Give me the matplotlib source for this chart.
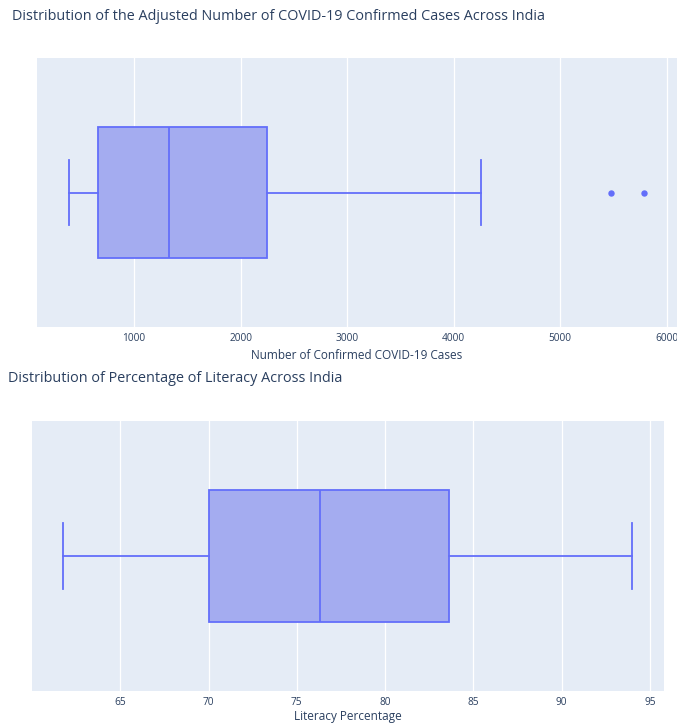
import numpy as np
import matplotlib.pyplot as plt

plt.rcParams['font.family'] = ['Open Sans', 'DejaVu Sans']

# Статистики ящиков
covid_stats = [391, 663, 1328, 2247, 4252]  # whislo, q1, med, q3, whishi
covid_outliers = [5480, 5789]
covid_ticks = [1000, 2000, 3000, 4000, 5000, 6000]

literacy_stats = [61.76, 70.0, 76.3, 83.6, 94.0]
literacy_outliers = []
literacy_ticks = [65, 70, 75, 80, 85, 90, 95]

TEXT = '#2a3f5f'
BG = '#e5ecf6'
LINE = '#636efa'
FILL = '#a4acf0'


def draw_box(ax, stats, outliers, ticks, xlim, xlabel, labelpad):
    lo, q1, med, q3, hi = stats
    bx = [{'whislo': lo, 'q1': q1, 'med': med, 'q3': q3, 'whishi': hi,
           'fliers': outliers}]
    ax.bxp(bx, positions=[0], widths=0.487, capwidths=0.242, vert=False,
           patch_artist=True, showfliers=True,
           boxprops=dict(facecolor=FILL, edgecolor=LINE, linewidth=1.3),
           medianprops=dict(color=LINE, linewidth=1.3),
           whiskerprops=dict(color=LINE, linewidth=1.3),
           capprops=dict(color=LINE, linewidth=1.3),
           flierprops=dict(marker='o', markersize=3.6, markerfacecolor=LINE,
                           markeredgecolor=LINE, linestyle='none'))
    ax.set_facecolor(BG)
    ax.set_xlim(*xlim)
    ax.set_ylim(-0.5, 0.5)
    ax.set_xticks(ticks)
    ax.set_xticklabels([str(t) for t in ticks])
    ax.set_yticks([])
    ax.grid(axis='x', color='white', linewidth=0.9)
    ax.set_axisbelow(True)
    for s in ax.spines.values():
        s.set_visible(False)
    ax.tick_params(axis='x', length=0, pad=4, labelsize=7.3, labelcolor=TEXT)
    ax.set_xlabel(xlabel, fontsize=8.5, color=TEXT, labelpad=labelpad)


fig = plt.figure(figsize=(6.77, 7.24), dpi=100)

ax1 = fig.add_axes([37 / 677, 1 - 327 / 724, 640 / 677, 269 / 724])
draw_box(ax1, covid_stats, covid_outliers, covid_ticks, (90, 6095),
         'Number of Confirmed COVID-19 Cases', 4)

ax2 = fig.add_axes([32 / 677, 1 - 691 / 724, 632 / 677, 270 / 724])
draw_box(ax2, literacy_stats, literacy_outliers, literacy_ticks, (60.0, 95.8),
         'Literacy Percentage', 2)

fig.text(12 / 677, 1 - 17 / 724,
         'Distribution of the Adjusted Number of COVID-19 Confirmed Cases Across India',
         fontsize=10.4, color=TEXT, va='center', ha='left')
fig.text(8 / 677, 1 - 378 / 724,
         'Distribution of Percentage of Literacy Across India',
         fontsize=10.4, color=TEXT, va='center', ha='left')

fig.savefig('out.png', dpi=100)
